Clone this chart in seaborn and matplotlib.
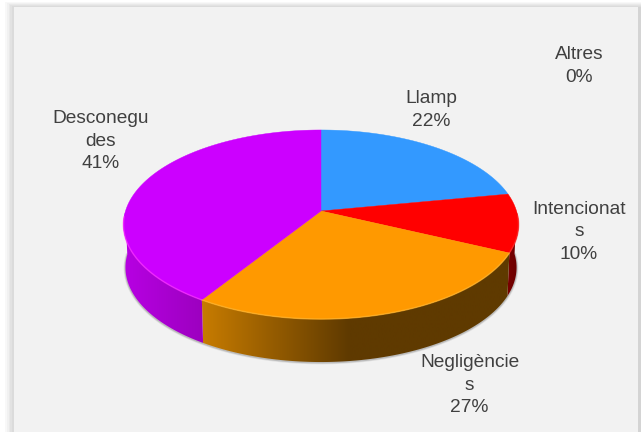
import numpy as np
import matplotlib
matplotlib.use("Agg")
import matplotlib.pyplot as plt
from matplotlib.colors import to_rgb
from matplotlib.patches import Rectangle, Polygon
import seaborn as sns

# chart data
labels = ["Llamp", "Intencionat\ns", "Negligèncie\ns", "Desconegu\ndes", "Altres"]
values = [22, 10, 27, 41, 0]
top_colors = ["#3399ff", "#ff0000", "#ff9900", "#cc00ff", "#999999"]
rim_colors = ["#66b3ff", "#ff3030", "#ffb52e", "#ff33ff", "#999999"]
side_left = ["#1f5c99", "#7a0000", "#c87c00", "#b800e4", "#666666"]
side_right = ["#1f5c99", "#660000", "#5f3a00", "#9c00bf", "#666666"]

# where the labels sit, in pixels
label_xy = [(431, 110), (579, 232), (469.5, 385), (100.5, 141), (579, 66)]

# pie projection (tilted disc with perspective)
cx, cy = 321, 211
a, b, k = 195.5, 92.6, 1 / 7
depth = 43

sns.set_theme(style="white")
plt.rcParams["font.family"] = ["Liberation Sans", "DejaVu Sans"]

fig = plt.figure(figsize=(6.41, 4.32), dpi=100, facecolor="white")
ax = fig.add_axes([0, 0, 1, 1])
ax.axis("off")


def project(angle):
    u, v = np.cos(angle), np.sin(angle)
    w = 1 + k * v
    return cx + a * u / w, cy - b * v / w


# panel with soft shadow on the top and left
shadow = sns.blend_palette(["#ffffff", "#d4d4d4"], 7)
for i, col in enumerate(shadow):
    off = 6 - i
    ax.add_patch(Rectangle((14 - off * 1.8, 7 - off), 640, 440, color=col, lw=0, zorder=1))
ax.add_patch(Rectangle((14, 7), 624, 440, color="#f2f2f2", lw=0, zorder=2))

# slice limits, clockwise from 12 o'clock
fracs = np.cumsum([0] + values) / sum(values)
angles = np.pi / 2 - 2 * np.pi * fracs

# soft shadow below the side wall
t = np.linspace(np.pi, 2 * np.pi, 200)
sx, sy = project(t)
for lw, al in [(2.6, 0.12), (1.4, 0.25)]:
    ax.plot(cx + (sx - cx) * 0.99, sy + depth + 0.5, color="#555555", lw=lw, alpha=al, zorder=3)

# side wall, only the front half of the rim shows
for i, val in enumerate(values):
    t = np.linspace(angles[i], angles[i + 1], 300)
    t = (t + 2 * np.pi) % (2 * np.pi)
    t = np.sort(t[(t >= np.pi) & (t <= 2 * np.pi)])
    if val == 0 or len(t) < 2:
        continue
    x, y = project(t)
    xb = cx + (x - cx) * 0.99
    wall = Polygon(np.r_[np.c_[x, y], np.c_[xb, y + depth][::-1]], closed=True, lw=0, fc="none", zorder=4)
    ax.add_patch(wall)
    # horizontal gradient, orange is at its darkest from the middle of the pie on
    if i == 2:
        grad = list(sns.blend_palette([side_left[i], side_right[i]], 70)) + [to_rgb(side_right[i])] * 75
    else:
        grad = sns.blend_palette([side_left[i], side_right[i]], 145)
    grad = np.array([[c[:3] for c in grad]])
    img = ax.imshow(grad, extent=(x.min() - 2, x.max() + 2, 432, 0), aspect="auto",
                    interpolation="bilinear", zorder=4)
    img.set_clip_path(wall)

# top face
for i, val in enumerate(values):
    if val == 0:
        continue
    t = np.linspace(angles[i], angles[i + 1], 200)
    x, y = project(t)
    ax.fill(np.r_[cx, x], np.r_[cy, y], color=top_colors[i], lw=0.3, zorder=5)
    # bevel highlight at the front edge
    front = np.sin(t) < -0.05
    if front.any():
        ax.plot(x[front], y[front], color=rim_colors[i], lw=1.1, alpha=0.6, zorder=6)

for name, val, (lx, ly) in zip(labels, values, label_xy):
    ax.text(lx, ly, f"{name}\n{val}%", ha="center", va="center", fontsize=13.8,
            color="#404040", linespacing=1.42, zorder=7)

ax.set_xlim(0, 641)
ax.set_ylim(432, 0)

fig.savefig("out.png", dpi=100, facecolor=fig.get_facecolor())
